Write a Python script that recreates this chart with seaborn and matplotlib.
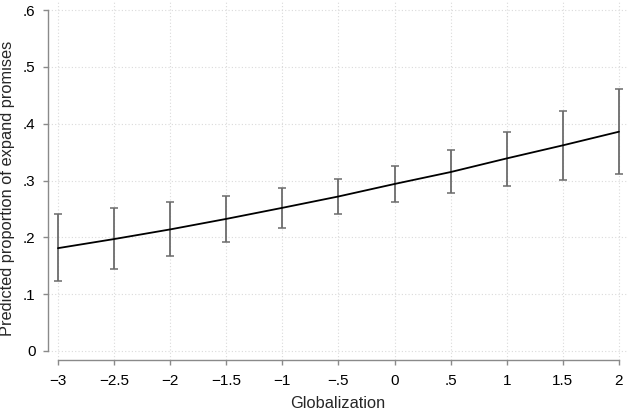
import numpy as np
import pandas as pd
import matplotlib
matplotlib.use("Agg")
import matplotlib.pyplot as plt
import seaborn as sns

# values
globalization = [-3, -2.5, -2, -1.5, -1, -0.5, 0, 0.5, 1, 1.5, 2]
predicted = [0.181, 0.197, 0.214, 0.2325, 0.252, 0.272, 0.294, 0.315, 0.339, 0.362, 0.386]
ci_upper = [0.241, 0.251, 0.262, 0.2735, 0.2865, 0.303, 0.325, 0.353, 0.386, 0.423, 0.462]
ci_lower = [0.123, 0.145, 0.168, 0.1925, 0.217, 0.242, 0.262, 0.278, 0.291, 0.301, 0.312]

x_ticks = [-3, -2.5, -2, -1.5, -1, -0.5, 0, 0.5, 1, 1.5, 2]
x_ticklabels = ["\u22123", "\u22122.5", "\u22122", "\u22121.5", "\u22121", "\u2212.5", "0", ".5", "1", "1.5", "2"]
y_ticks = [0, 0.1, 0.2, 0.3, 0.4, 0.5, 0.6]
y_ticklabels = ["0", ".1", ".2", ".3", ".4", ".5", ".6"]

df = pd.DataFrame({"globalization": globalization, "predicted": predicted,
                   "upper": ci_upper, "lower": ci_lower})

sns.set_style("white")
plt.rcParams['font.family'] = ['Liberation Sans', 'DejaVu Sans']

fig = plt.figure(figsize=(6.29, 4.12), dpi=100)
ax = fig.add_axes([0.0763, 0.1262, 0.922, 0.874])

# confidence intervals
yerr = np.array([df["predicted"] - df["lower"], df["upper"] - df["predicted"]])
ax.errorbar(df["globalization"], df["predicted"], yerr=yerr, fmt="none",
            ecolor="#6b6b6b", elinewidth=1.3, capsize=3.2, capthick=1.1, zorder=2)

sns.lineplot(data=df, x="globalization", y="predicted", color="black",
             linewidth=1.3, ax=ax, zorder=3)

ax.set_xlim(-3.089, 2.080)
ax.set_ylim(-0.0159, 0.618)

ax.set_xticks(x_ticks)
ax.set_xticklabels(x_ticklabels)
ax.set_yticks(y_ticks)
ax.set_yticklabels(y_ticklabels)

ax.grid(True, color="#dadada", linestyle=(0, (1, 2)), linewidth=0.8)
ax.set_axisbelow(True)

for s in ["top", "right"]:
    ax.spines[s].set_visible(False)
for s in ["left", "bottom"]:
    ax.spines[s].set_color("#8a8a8a")
    ax.spines[s].set_linewidth(1.0)
ax.spines["left"].set_bounds(0, 0.6)
ax.spines["bottom"].set_bounds(-3, 2)

ax.tick_params(axis="both", which="both", direction="out", length=3.5, width=1.0,
               color="#8a8a8a", labelsize=11, labelcolor="black")
ax.tick_params(axis="x", pad=6.5)
ax.tick_params(axis="y", pad=5.5)
ax.tick_params(left=True, bottom=True)

ax.set_xlabel("Globalization", fontsize=11.8)
ax.set_ylabel("Predicted proportion of expand promises", fontsize=11.8)
ax.xaxis.set_label_coords(0.5, -0.1)
ax.yaxis.set_label_coords(-0.057, 0.478)

fig.savefig("out.png", dpi=100)
